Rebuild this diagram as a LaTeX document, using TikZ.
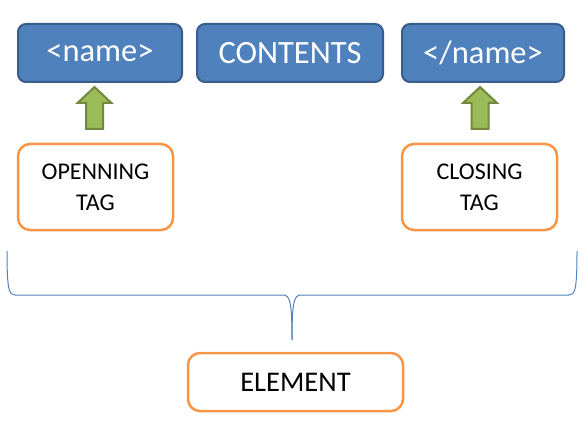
\documentclass[tikz,border=0pt]{standalone}
\usepackage{fontspec}
\setmainfont{Carlito}
\definecolor{tagblue}{HTML}{4F81BD}
\definecolor{tagblueline}{HTML}{385D8A}
\definecolor{tagorange}{HTML}{F79646}
\definecolor{taggreen}{HTML}{9BBB59}
\definecolor{taggreenline}{HTML}{71893F}
\tikzset{
  bluebox/.style={draw=tagblueline, fill=tagblue, line width=2pt, rounded corners=8pt,
    text=white, minimum height=58pt, inner sep=0pt, font=\fontsize{32.5}{38}\selectfont},
  orangebox/.style={draw=tagorange, line width=2.5pt, rounded corners=12pt, align=center,
    minimum height=86pt, inner sep=0pt, font=\fontsize{24}{31}\selectfont},
  uparrow/.style={draw=taggreenline, fill=taggreen, line width=2pt}
}
\begin{document}
\begin{tikzpicture}[x=1pt, y=-1pt]
\useasboundingbox (0,0) rectangle (588,430); % page size

\node[bluebox, minimum width=164pt] (nameL) at (100,53) {<name>}; % opening tag box
\node[bluebox, minimum width=186pt] (contents) at (290,53) {CONTENTS}; % contents box
\node[bluebox, minimum width=162pt] (nameR) at (483,53) {</name>}; % closing tag box

\node[orangebox, minimum width=155pt] (opentag) at (95.5,187) {OPENNING\\TAG}; % left label
\node[orangebox, minimum width=155pt] (closetag) at (479.5,187) {CLOSING\\TAG}; % right label

\coordinate (arrowL) at (94.5,129); % left arrow, foot
\coordinate (arrowR) at (480,129); % right arrow, foot
\draw[uparrow] (arrowL) ++(-8.5,0) -- ++(0,-26) -- ++(-8.5,0) -- ++(17,-16)
  -- ++(17,16) -- ++(-8.5,0) -- ++(0,26) -- cycle; % left arrow
\draw[uparrow] (arrowR) ++(-8.5,0) -- ++(0,-26) -- ++(-8.5,0) -- ++(17,-16)
  -- ++(17,16) -- ++(-8.5,0) -- ++(0,26) -- cycle; % right arrow

\node[orangebox, minimum width=215pt, minimum height=58pt, font=\fontsize{28.5}{34}\selectfont]
  (element) at (295.5,382) {ELEMENT}; % element label

\coordinate (braceL) at (7,251); % brace, left end
\coordinate (braceR) at (577,251); % brace, right end
\coordinate (braceTip) at (292,340); % brace, tip
\draw[tagblue, line width=1pt] (braceL) .. controls (7,290) and (9,295) .. (15,295)
  -- (283,295) .. controls (290,295) and (292,302) .. (braceTip); % left half
\draw[tagblue, line width=1pt] (braceR) .. controls (577,290) and (575,295) .. (569,295)
  -- (301,295) .. controls (294,295) and (292,302) .. (braceTip); % right half

\end{tikzpicture}
\end{document}
